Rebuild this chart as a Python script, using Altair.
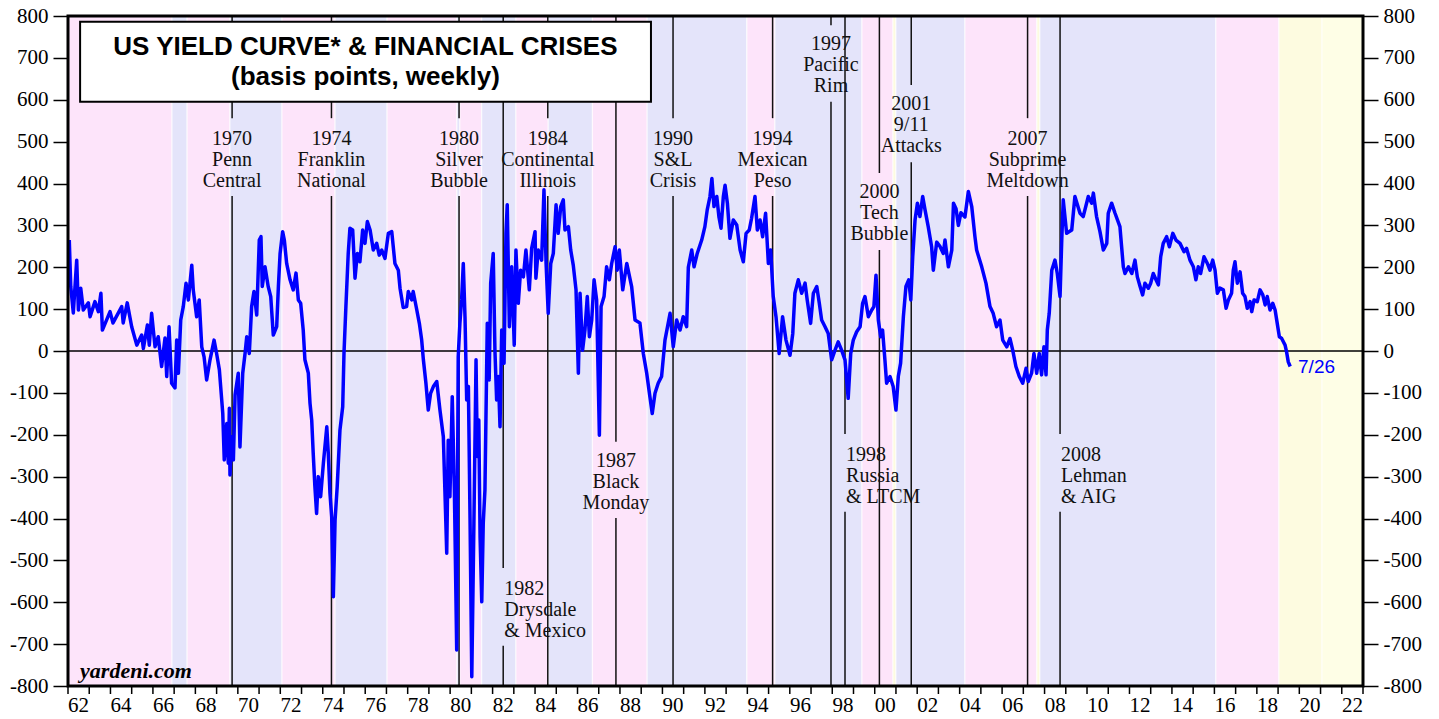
import altair as alt
import pandas as pd

# ---------------- data ----------------
years = [
    1962.06, 1962.13, 1962.25, 1962.41, 1962.49, 1962.60, 1962.72, 1962.96, 1963.04, 1963.27,
    1963.43, 1963.55, 1963.62, 1963.98, 1964.12, 1964.53, 1964.60, 1964.79, 1965.00, 1965.24,
    1965.47, 1965.55, 1965.74, 1965.83, 1965.94, 1966.10, 1966.25, 1966.41, 1966.57, 1966.65,
    1966.76, 1966.88, 1967.04, 1967.12, 1967.20, 1967.31, 1967.43, 1967.56, 1967.67, 1967.83,
    1967.90, 1968.06, 1968.18, 1968.30, 1968.41, 1968.53, 1968.69, 1968.88, 1969.00, 1969.13,
    1969.29, 1969.36, 1969.48, 1969.55, 1969.60, 1969.63, 1969.71, 1969.79, 1969.87, 1970.02,
    1970.10, 1970.23, 1970.34, 1970.42, 1970.54, 1970.65, 1970.76, 1970.89, 1971.01, 1971.09,
    1971.15, 1971.28, 1971.43, 1971.55, 1971.67, 1971.83, 1971.91, 1971.99, 1972.11, 1972.19,
    1972.30, 1972.46, 1972.61, 1972.74, 1972.85, 1972.96, 1973.08, 1973.16, 1973.32, 1973.40,
    1973.48, 1973.55, 1973.63, 1973.71, 1973.79, 1973.90, 1974.03, 1974.19, 1974.26, 1974.34,
    1974.42, 1974.50, 1974.58, 1974.68, 1974.81, 1974.94, 1975.00, 1975.09, 1975.20, 1975.28,
    1975.41, 1975.52, 1975.63, 1975.75, 1975.88, 1975.99, 1976.10, 1976.23, 1976.38, 1976.54,
    1976.66, 1976.78, 1976.93, 1977.09, 1977.25, 1977.40, 1977.56, 1977.64, 1977.79, 1977.95,
    1978.03, 1978.19, 1978.26, 1978.43, 1978.55, 1978.66, 1978.74, 1978.86, 1978.97, 1979.08,
    1979.21, 1979.37, 1979.52, 1979.68, 1979.84, 1979.91, 1979.99, 1980.10, 1980.20, 1980.31,
    1980.38, 1980.46, 1980.54, 1980.62, 1980.70, 1980.78, 1980.86, 1980.94, 1981.02, 1981.12,
    1981.22, 1981.28, 1981.35, 1981.41, 1981.49, 1981.56, 1981.64, 1981.75, 1981.84, 1981.91,
    1982.03, 1982.11, 1982.19, 1982.27, 1982.35, 1982.43, 1982.54, 1982.63, 1982.69, 1982.79,
    1982.90, 1983.02, 1983.10, 1983.21, 1983.32, 1983.45, 1983.57, 1983.73, 1983.84, 1984.00,
    1984.04, 1984.15, 1984.31, 1984.42, 1984.52, 1984.62, 1984.74, 1984.86, 1984.99, 1985.09,
    1985.21, 1985.33, 1985.41, 1985.57, 1985.68, 1985.80, 1985.93, 1986.04, 1986.12, 1986.24,
    1986.35, 1986.46, 1986.56, 1986.67, 1986.78, 1986.90, 1987.03, 1987.11, 1987.25, 1987.37,
    1987.50, 1987.61, 1987.77, 1987.87, 1987.97, 1988.13, 1988.32, 1988.55, 1988.71, 1988.94,
    1989.10, 1989.26, 1989.41, 1989.52, 1989.65, 1989.80, 1989.96, 1990.12, 1990.36, 1990.51,
    1990.67, 1990.83, 1990.98, 1991.14, 1991.22, 1991.38, 1991.49, 1991.64, 1991.85, 1992.00,
    1992.11, 1992.24, 1992.33, 1992.43, 1992.56, 1992.66, 1992.76, 1992.87, 1992.95, 1993.06,
    1993.18, 1993.34, 1993.50, 1993.66, 1993.81, 1993.94, 1994.09, 1994.20, 1994.36, 1994.47,
    1994.60, 1994.72, 1994.86, 1994.99, 1995.10, 1995.22, 1995.35, 1995.50, 1995.66, 1995.82,
    1996.01, 1996.14, 1996.24, 1996.40, 1996.56, 1996.72, 1996.82, 1996.98, 1997.11, 1997.27,
    1997.39, 1997.50, 1997.66, 1997.81, 1997.97, 1998.13, 1998.28, 1998.44, 1998.60, 1998.75,
    1998.87, 1998.99, 1999.15, 1999.31, 1999.43, 1999.54, 1999.70, 1999.86, 1999.96, 2000.06,
    2000.17, 2000.28, 2000.37, 2000.48, 2000.56, 2000.72, 2000.87, 2001.00, 2001.11, 2001.22,
    2001.35, 2001.47, 2001.60, 2001.70, 2001.79, 2001.90, 2002.01, 2002.13, 2002.26, 2002.37,
    2002.52, 2002.68, 2002.76, 2002.92, 2003.07, 2003.23, 2003.31, 2003.47, 2003.63, 2003.71,
    2003.83, 2003.94, 2004.06, 2004.25, 2004.41, 2004.57, 2004.72, 2004.80, 2005.04, 2005.24,
    2005.43, 2005.58, 2005.74, 2005.90, 2006.03, 2006.22, 2006.37, 2006.50, 2006.65, 2006.81,
    2006.97, 2007.13, 2007.23, 2007.39, 2007.50, 2007.63, 2007.75, 2007.86, 2007.97, 2008.07,
    2008.13, 2008.22, 2008.34, 2008.49, 2008.60, 2008.73, 2008.81, 2008.88, 2009.04, 2009.28,
    2009.43, 2009.67, 2009.82, 2010.06, 2010.22, 2010.30, 2010.45, 2010.61, 2010.77, 2010.93,
    2011.00, 2011.16, 2011.32, 2011.55, 2011.63, 2011.71, 2011.79, 2011.95, 2012.11, 2012.26,
    2012.37, 2012.50, 2012.62, 2012.73, 2012.89, 2013.00, 2013.12, 2013.25, 2013.36, 2013.47,
    2013.59, 2013.75, 2013.88, 2014.04, 2014.19, 2014.38, 2014.57, 2014.69, 2014.85, 2015.01,
    2015.13, 2015.24, 2015.35, 2015.51, 2015.67, 2015.79, 2015.92, 2016.03, 2016.14, 2016.26,
    2016.42, 2016.55, 2016.66, 2016.81, 2016.89, 2016.97, 2017.08, 2017.21, 2017.33, 2017.44,
    2017.55, 2017.68, 2017.76, 2017.87, 2018.02, 2018.15, 2018.28, 2018.39, 2018.49, 2018.62,
    2018.75, 2018.86, 2018.96, 2019.06, 2019.17, 2019.33, 2019.40, 2019.48, 2019.57,
]
spread_bp = [
    265, 154, 91, 217, 98, 150, 98, 115, 82, 118,
    94, 138, 50, 94, 67, 106, 67, 115, 58, 14,
    38, 6, 62, 14, 90, 10, 34, -37, 31, -61,
    58, -77, -88, 26, -53, 74, 106, 162, 122, 205,
    146, 82, 122, 10, -14, -69, -21, 26, -6, -45,
    -149, -260, -173, -268, -137, -296, -205, -260, -105, -53,
    -229, -53, -6, 34, -6, 106, 142, 86, 265, 273,
    154, 201, 154, 130, 38, 58, 154, 233, 285, 265,
    209, 170, 146, 186, 122, 114, 50, -21, -53, -125,
    -165, -244, -324, -388, -300, -348, -268, -181, -244, -340,
    -396, -587, -404, -324, -189, -133, -6, 106, 233, 293,
    289, 174, 233, 213, 289, 257, 309, 289, 241, 257,
    229, 241, 221, 281, 285, 209, 193, 150, 104, 106,
    142, 122, 142, 98, 66, 26, -21, -77, -141, -101,
    -85, -73, -141, -205, -483, -213, -348, -109, -332, -714,
    -14, 66, 122, 209, 82, -117, -85, -411, -778, -411,
    -21, -252, -165, -443, -599, -411, -332, 66, -69, 162,
    233, 2, -117, -61, -181, 50, -29, 281, 349, 58,
    201, 14, 241, 114, 193, 177, 241, 146, 245, 285,
    174, 241, 217, 385, 209, 90, 209, 233, 349, 281,
    345, 361, 289, 297, 241, 205, 146, -53, 138, 2,
    50, 130, 34, 74, 170, 122, -201, 106, 130, 201,
    170, 209, 249, 193, 241, 146, 209, 154, 74, 67,
    -6, -53, -109, -149, -101, -77, -61, 26, 90, 10,
    74, 50, 82, 58, 200, 241, 201, 233, 265, 297,
    337, 369, 412, 345, 369, 321, 293, 369, 396, 353,
    269, 313, 301, 241, 213, 281, 289, 317, 369, 289,
    313, 273, 329, 209, 241, 130, 82, -6, 82, 26,
    -10, 42, 138, 170, 138, 162, 122, 66, 138, 154,
    114, 74, 58, 42, -21, 2, 22, 2, -21, -113,
    -6, 26, 46, 58, 114, 130, 82, 98, 106, 181,
    74, 34, 50, -21, -77, -61, -85, -141, -61, -29,
    82, 154, 170, 122, 225, 313, 353, 321, 369, 337,
    297, 249, 193, 260, 250, 233, 265, 201, 241, 353,
    340, 300, 330, 320, 381, 345, 273, 241, 201, 162,
    106, 90, 58, 74, 26, 10, 30, 2, -37, -61,
    -77, -41, -73, -53, -6, -53, -6, -57, 10, -57,
    50, 90, 193, 217, 185, 130, 265, 361, 281, 289,
    369, 329, 321, 369, 353, 377, 321, 285, 241, 257,
    329, 353, 329, 297, 249, 201, 185, 201, 185, 217,
    177, 154, 134, 162, 150, 162, 185, 170, 158, 225,
    257, 273, 249, 281, 265, 257, 237, 245, 217, 201,
    170, 201, 185, 225, 209, 193, 217, 193, 138, 150,
    146, 102, 122, 138, 193, 213, 162, 189, 138, 130,
    102, 118, 94, 122, 118, 146, 134, 110, 130, 98,
    114, 98, 66, 34, 30, 14, -2, -26, -37,
]

# shaded periods (pink / lavender / yellow)
band_start = [1962.00, 1966.90, 1967.61, 1969.63, 1972.08, 1974.58, 1977.03, 1980.32, 1980.46,
              1981.49, 1983.10, 1984.62, 1986.70, 1989.28, 1993.98, 1995.30, 1999.40, 2000.86,
              2001.00, 2004.25, 2007.64, 2007.78, 2016.07, 2019.04, 2021.07]
band_end = band_start[1:] + [2023.00]
band_kind = ["pink", "blue", "pink", "blue", "pink", "blue", "pink", "blue", "pink",
             "blue", "pink", "blue", "pink", "blue", "pink", "blue", "pink", "yellow",
             "blue", "pink", "yellow", "blue", "pink", "yellow", "pale"]

# crisis markers: year, end of upper segment, start of lower segment (bp)
crisis_year = [1969.73, 1974.41, 1980.42, 1982.50, 1984.60, 1987.81, 1990.50,
               1995.19, 1997.94, 1998.60, 2000.22, 2001.72, 2007.20, 2008.73]
gap_top = [556, 556, 556, -518, 556, -217, 556, 556, 778, -198, 425, 635, 556, -198]
gap_bottom = [370, 370, 370, -704, 370, -399, 370, 370, 595, -384, 241, 451, 370, -384]

crisis_lines = [
    ["1970", "Penn", "Central"],
    ["1974", "Franklin", "National"],
    ["1980", "Silver", "Bubble"],
    ["1982", "Drysdale", "& Mexico"],
    ["1984", "Continental", "Illinois"],
    ["1987", "Black", "Monday"],
    ["1990", "S&L", "Crisis"],
    ["1994", "Mexican", "Peso"],
    ["1997", "Pacific", "Rim"],
    ["1998", "Russia", "& LTCM"],
    ["2000", "Tech", "Bubble"],
    ["2001", "9/11", "Attacks"],
    ["2007", "Subprime", "Meltdown"],
    ["2008", "Lehman", "& AIG"],
]
crisis_first_baseline = [492, 492, 492, -583, 492, -277, 492, 492, 719, -263, 365, 576, 492, -263]
crisis_align = ["center", "center", "center", "left", "center", "center", "center",
                "center", "center", "left", "center", "center", "center", "left"]

y_ticks = list(range(-800, 801, 100))
x_ticks = list(range(1962, 2024))          # one tick per year
x_label_years = list(range(1962, 2023, 2))  # labelled years, label sits mid-year

# ---------------- tables ----------------
line_df = pd.DataFrame({"year": years, "bp": spread_bp})
band_df = pd.DataFrame({"start": band_start, "end": band_end, "kind": band_kind})
tick_df = pd.DataFrame({"tick": x_ticks})
xlab_df = pd.DataFrame({"pos": [y + 0.5 for y in x_label_years],
                        "text": [str(y)[2:] for y in x_label_years]})

seg_rows = []
for yr, gt, gb in zip(crisis_year, gap_top, gap_bottom):
    seg_rows.append({"year": yr, "y1": 800, "y2": gt})
    seg_rows.append({"year": yr, "y1": gb, "y2": -800})
seg_df = pd.DataFrame(seg_rows)

lab_rows = []
for yr, lines, base, al in zip(crisis_year, crisis_lines, crisis_first_baseline, crisis_align):
    for i, t in enumerate(lines):
        lab_rows.append({"year": yr + (0.05 if al == "left" else 0.0),
                         "bp": base - 50 * i, "text": t, "align": al})
lab_df = pd.DataFrame(lab_rows)

W, H = 1295, 670
xs = alt.Scale(domain=[1962, 2023], nice=False, zero=False)
ys = alt.Scale(domain=[-800, 800], nice=False, zero=False)

SERIF = "Liberation Serif"
SANS = "Liberation Sans"


def y_axis(orient):
    return alt.Axis(
        orient=orient, values=y_ticks, title=None, grid=False, domain=False,
        labelExpr="toString(datum.value)", labelOverlap=False, labelFlush=False,
        tickSize=15, tickWidth=1.5, tickColor="black",
        labelFont=SERIF, labelFontSize=21, labelColor="black", labelPadding=5,
    )


bands = alt.Chart(band_df).mark_rect(stroke="white", strokeWidth=0.8).encode(
    x=alt.X("start:Q", scale=xs, axis=None),
    x2="end:Q",
    color=alt.Color("kind:N", legend=None,
                    scale=alt.Scale(domain=["pink", "blue", "yellow", "pale"],
                                    range=["#fde4fa", "#e4e4fa", "#fdfbe0", "#fefee6"])),
)

zero = alt.Chart(pd.DataFrame({"bp": [0]})).mark_rule(color="black", strokeWidth=1.5).encode(
    y=alt.Y("bp:Q", scale=ys, axis=y_axis("right")),
)

segs = alt.Chart(seg_df).mark_rule(color="#111111", strokeWidth=1.5).encode(
    x=alt.X("year:Q", scale=xs, axis=None),
    y=alt.Y("y1:Q", scale=ys, axis=None),
    y2="y2:Q",
)

labels_c = alt.Chart(lab_df[lab_df["align"] == "center"]).mark_text(
    font=SERIF, fontSize=20, color="#111111", align="center", baseline="alphabetic"
).encode(
    x=alt.X("year:Q", scale=xs, axis=None),
    y=alt.Y("bp:Q", scale=ys, axis=None),
    text="text:N",
)
labels_l = alt.Chart(lab_df[lab_df["align"] == "left"]).mark_text(
    font=SERIF, fontSize=20, color="#111111", align="left", baseline="alphabetic"
).encode(
    x=alt.X("year:Q", scale=xs, axis=None),
    y=alt.Y("bp:Q", scale=ys, axis=None),
    text="text:N",
)

line = alt.Chart(line_df).mark_line(color="#0000ff", strokeWidth=3.5, strokeJoin="round").encode(
    x=alt.X("year:Q", scale=xs, axis=None),
    y=alt.Y("bp:Q", scale=ys, axis=y_axis("left")),
)

box_df = pd.DataFrame({"x0": [1962.57], "x1": [1989.46], "y0": [595], "y1": [786]})
box = alt.Chart(box_df).mark_rect(fill="white", stroke="black", strokeWidth=2).encode(
    x=alt.X("x0:Q", scale=xs, axis=None), x2="x1:Q",
    y=alt.Y("y0:Q", scale=ys, axis=None), y2="y1:Q",
)

title_df = pd.DataFrame({"year": [1976.01, 1976.01], "bp": [707, 635],
                         "text": ["US YIELD CURVE* & FINANCIAL CRISES", "(basis points, weekly)"]})
title = alt.Chart(title_df).mark_text(
    font=SANS, fontSize=26, fontWeight="bold", color="black", align="center", baseline="alphabetic"
).encode(
    x=alt.X("year:Q", scale=xs, axis=None),
    y=alt.Y("bp:Q", scale=ys, axis=None),
    text="text:N",
)

src_df = pd.DataFrame({"year": [1962.57], "bp": [-781], "text": ["yardeni.com"]})
source = alt.Chart(src_df).mark_text(
    font=SERIF, fontSize=22, fontWeight="bold", fontStyle="italic", color="black",
    align="left", baseline="alphabetic"
).encode(
    x=alt.X("year:Q", scale=xs, axis=None),
    y=alt.Y("bp:Q", scale=ys, axis=None),
    text="text:N",
)

last_df = pd.DataFrame({"year": [2019.94], "bp": [-52], "text": ["7/26"]})
last_lbl = alt.Chart(last_df).mark_text(
    font=SANS, fontSize=19, color="#0000ff", align="left", baseline="alphabetic"
).encode(
    x=alt.X("year:Q", scale=xs, axis=None),
    y=alt.Y("bp:Q", scale=ys, axis=None),
    text="text:N",
)

frame_df = pd.DataFrame({"x0": [1962], "x1": [2023], "y0": [-800], "y1": [800]})
frame = alt.Chart(frame_df).mark_rect(fillOpacity=0, stroke="black", strokeWidth=3).encode(
    x=alt.X("x0:Q", scale=xs, axis=None), x2="x1:Q",
    y=alt.Y("y0:Q", scale=ys, axis=None), y2="y1:Q",
)

# bottom year axis: ticks every year, 2-digit labels centred in the even years
x_tick_marks = alt.Chart(tick_df).mark_rule(color="black", strokeWidth=1.5).encode(
    x=alt.X("tick:Q", scale=xs, axis=None),
    y=alt.value(H),
    y2=alt.value(H + 8),
)
x_tick_labels = alt.Chart(xlab_df).mark_text(
    font=SERIF, fontSize=21, color="black", align="center", baseline="alphabetic"
).encode(
    x=alt.X("pos:Q", scale=xs, axis=None),
    y=alt.value(H + 26),
    text="text:N",
)

chart = alt.layer(
    bands, zero, segs, labels_c, labels_l, line, box, title, source, last_lbl, frame,
    x_tick_marks, x_tick_labels
).resolve_axis(y="independent").properties(
    width=W, height=H,
    padding={"left": 60, "top": 8, "right": 64, "bottom": 32},
    autosize=alt.AutoSizeParams(type="none"),
).configure_view(strokeWidth=0)

chart.save("out.html", embed_options={"renderer": "svg", "actions": False})
